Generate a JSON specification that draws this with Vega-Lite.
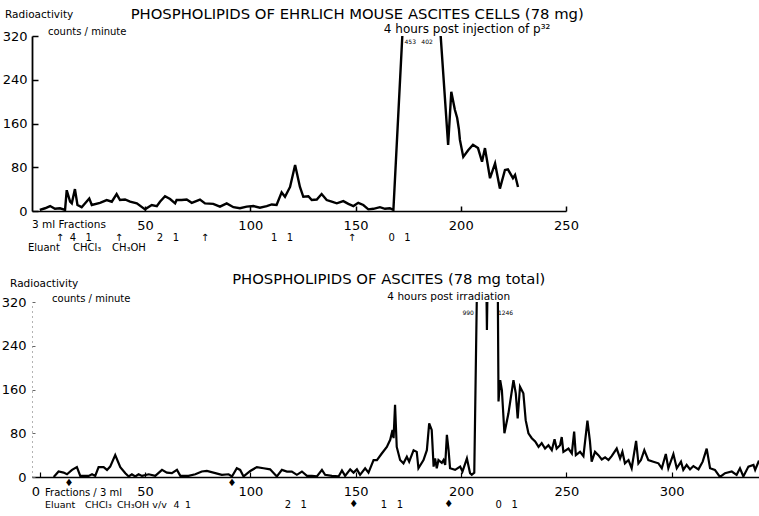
{
  "$schema": "https://vega.github.io/schema/vega-lite/v6.json",
  "padding": {"left": 1, "top": 7, "right": 0, "bottom": 0},
  "spacing": 18,
  "config": {"view": {"stroke": null}, "font": "DejaVu Sans", "text": {"font": "DejaVu Sans", "color": "black", "baseline": "alphabetic"}},
  "datasets": {
    "one": [{}],
    "top": [
      {"fraction": 0, "cpm": 2}, {"fraction": 2.5, "cpm": 5}, {"fraction": 4.9, "cpm": 9}, {"fraction": 7.2, "cpm": 4}, {"fraction": 9.6, "cpm": 5}, {"fraction": 12, "cpm": 2}, {"fraction": 12.8, "cpm": 38}, {"fraction": 14.4, "cpm": 17}, {"fraction": 15.2, "cpm": 14}, {"fraction": 16.7, "cpm": 40}, {"fraction": 17.9, "cpm": 11}, {"fraction": 19.9, "cpm": 7}, {"fraction": 23.5, "cpm": 23}, {"fraction": 24.7, "cpm": 11}, {"fraction": 28.6, "cpm": 15}, {"fraction": 31.8, "cpm": 20}, {"fraction": 34.2, "cpm": 17}, {"fraction": 36.5, "cpm": 31}, {"fraction": 38.1, "cpm": 20}, {"fraction": 40.5, "cpm": 21}, {"fraction": 42.9, "cpm": 17}, {"fraction": 46.1, "cpm": 14}, {"fraction": 50, "cpm": 3}, {"fraction": 53.2, "cpm": 11}, {"fraction": 55.6, "cpm": 9}, {"fraction": 57.1, "cpm": 17}, {"fraction": 59.5, "cpm": 27}, {"fraction": 61.9, "cpm": 22}, {"fraction": 64.3, "cpm": 14}, {"fraction": 65, "cpm": 20}, {"fraction": 67.4, "cpm": 20}, {"fraction": 69.8, "cpm": 21}, {"fraction": 72.2, "cpm": 15}, {"fraction": 76.1, "cpm": 21}, {"fraction": 78.5, "cpm": 14}, {"fraction": 82.4, "cpm": 13}, {"fraction": 85.6, "cpm": 8}, {"fraction": 88.8, "cpm": 14}, {"fraction": 92, "cpm": 7}, {"fraction": 95.1, "cpm": 5}, {"fraction": 98.3, "cpm": 8}, {"fraction": 101.5, "cpm": 9}, {"fraction": 104.6, "cpm": 6}, {"fraction": 107.8, "cpm": 9}, {"fraction": 110.2, "cpm": 12}, {"fraction": 112.5, "cpm": 11}, {"fraction": 114.9, "cpm": 34}, {"fraction": 116.5, "cpm": 26}, {"fraction": 118.9, "cpm": 44}, {"fraction": 121.3, "cpm": 84}, {"fraction": 123.6, "cpm": 44}, {"fraction": 125.2, "cpm": 26}, {"fraction": 127.6, "cpm": 27}, {"fraction": 129.2, "cpm": 20}, {"fraction": 131.6, "cpm": 21}, {"fraction": 133.9, "cpm": 31}, {"fraction": 136.3, "cpm": 20}, {"fraction": 138.7, "cpm": 17}, {"fraction": 141.1, "cpm": 14}, {"fraction": 144.2, "cpm": 18}, {"fraction": 146.6, "cpm": 13}, {"fraction": 149, "cpm": 9}, {"fraction": 151.3, "cpm": 15}, {"fraction": 153.7, "cpm": 11}, {"fraction": 156.1, "cpm": 3}, {"fraction": 158.5, "cpm": 4}, {"fraction": 161.6, "cpm": 7}, {"fraction": 164, "cpm": 4}, {"fraction": 166.3, "cpm": 5}, {"fraction": 168, "cpm": 2}, {"fraction": 174, "cpm": 453}, {"fraction": 189, "cpm": 402}, {"fraction": 194, "cpm": 121}, {"fraction": 195.5, "cpm": 218}, {"fraction": 197.2, "cpm": 185}, {"fraction": 198.3, "cpm": 170}, {"fraction": 199.1, "cpm": 150}, {"fraction": 199.6, "cpm": 130}, {"fraction": 201.2, "cpm": 99}, {"fraction": 203.5, "cpm": 111}, {"fraction": 205.8, "cpm": 121}, {"fraction": 208.2, "cpm": 115}, {"fraction": 210.1, "cpm": 90}, {"fraction": 211.5, "cpm": 115}, {"fraction": 213.9, "cpm": 60}, {"fraction": 216.3, "cpm": 87}, {"fraction": 218.6, "cpm": 41}, {"fraction": 221, "cpm": 75}, {"fraction": 222.4, "cpm": 76}, {"fraction": 224.8, "cpm": 60}, {"fraction": 225.8, "cpm": 66}, {"fraction": 227.2, "cpm": 44}
    ],
    "bottom": [
      {"fraction": 6.7, "cpm": 0}, {"fraction": 9.0, "cpm": 10}, {"fraction": 11.4, "cpm": 8}, {"fraction": 13.0, "cpm": 5}, {"fraction": 15.4, "cpm": 13}, {"fraction": 17.7, "cpm": 18}, {"fraction": 19.3, "cpm": 2}, {"fraction": 23.3, "cpm": 2}, {"fraction": 24.9, "cpm": 5}, {"fraction": 26.4, "cpm": 2}, {"fraction": 28.0, "cpm": 18}, {"fraction": 30.4, "cpm": 18}, {"fraction": 32.0, "cpm": 13}, {"fraction": 33.5, "cpm": 19}, {"fraction": 35.9, "cpm": 40}, {"fraction": 38.3, "cpm": 18}, {"fraction": 40.7, "cpm": 7}, {"fraction": 42.3, "cpm": 1}, {"fraction": 43.8, "cpm": 5}, {"fraction": 45.4, "cpm": 1}, {"fraction": 47.0, "cpm": 5}, {"fraction": 48.6, "cpm": 2}, {"fraction": 51.8, "cpm": 5}, {"fraction": 54.9, "cpm": 2}, {"fraction": 58.1, "cpm": 13}, {"fraction": 60.4, "cpm": 8}, {"fraction": 62.8, "cpm": 7}, {"fraction": 65.2, "cpm": 13}, {"fraction": 66.8, "cpm": 2}, {"fraction": 70.7, "cpm": 2}, {"fraction": 73.9, "cpm": 5}, {"fraction": 77.0, "cpm": 10}, {"fraction": 79.4, "cpm": 11}, {"fraction": 83.4, "cpm": 7}, {"fraction": 86.5, "cpm": 4}, {"fraction": 89.7, "cpm": 5}, {"fraction": 91.3, "cpm": 1}, {"fraction": 93.6, "cpm": 16}, {"fraction": 95.2, "cpm": 13}, {"fraction": 96.8, "cpm": 1}, {"fraction": 100.0, "cpm": 11}, {"fraction": 103.1, "cpm": 18}, {"fraction": 106.3, "cpm": 16}, {"fraction": 109.4, "cpm": 14}, {"fraction": 112.6, "cpm": 1}, {"fraction": 115.0, "cpm": 13}, {"fraction": 117.4, "cpm": 10}, {"fraction": 119.7, "cpm": 10}, {"fraction": 122.1, "cpm": 4}, {"fraction": 124.5, "cpm": 10}, {"fraction": 126.9, "cpm": 2}, {"fraction": 129.2, "cpm": 2}, {"fraction": 131.6, "cpm": 1}, {"fraction": 134.0, "cpm": 13}, {"fraction": 135.5, "cpm": 4}, {"fraction": 138.7, "cpm": 2}, {"fraction": 141.9, "cpm": 1}, {"fraction": 143.5, "cpm": 12}, {"fraction": 145.0, "cpm": 2}, {"fraction": 147.4, "cpm": 14}, {"fraction": 149.0, "cpm": 8}, {"fraction": 150.6, "cpm": 14}, {"fraction": 152.1, "cpm": 4}, {"fraction": 154.5, "cpm": 16}, {"fraction": 156.1, "cpm": 8}, {"fraction": 158.5, "cpm": 31}, {"fraction": 160.1, "cpm": 31}, {"fraction": 162.4, "cpm": 43}, {"fraction": 164.8, "cpm": 55}, {"fraction": 166.4, "cpm": 68}, {"fraction": 167.5, "cpm": 86}, {"fraction": 168.0, "cpm": 71}, {"fraction": 168.7, "cpm": 132}, {"fraction": 169.5, "cpm": 55}, {"fraction": 171.1, "cpm": 31}, {"fraction": 172.7, "cpm": 25}, {"fraction": 174.3, "cpm": 37}, {"fraction": 175.4, "cpm": 28}, {"fraction": 177.5, "cpm": 49}, {"fraction": 179.0, "cpm": 46}, {"fraction": 179.8, "cpm": 16}, {"fraction": 182.2, "cpm": 31}, {"fraction": 183.8, "cpm": 49}, {"fraction": 184.9, "cpm": 98}, {"fraction": 186.1, "cpm": 86}, {"fraction": 187.0, "cpm": 19}, {"fraction": 187.7, "cpm": 34}, {"fraction": 188.5, "cpm": 16}, {"fraction": 189.3, "cpm": 31}, {"fraction": 190.9, "cpm": 26}, {"fraction": 191.7, "cpm": 31}, {"fraction": 192.5, "cpm": 22}, {"fraction": 193.3, "cpm": 77}, {"fraction": 194.1, "cpm": 49}, {"fraction": 194.8, "cpm": 16}, {"fraction": 197.2, "cpm": 13}, {"fraction": 199.6, "cpm": 19}, {"fraction": 200.7, "cpm": 10}, {"fraction": 202.8, "cpm": 34}, {"fraction": 204.3, "cpm": 7}, {"fraction": 205.1, "cpm": 4}, {"fraction": 206.3, "cpm": 8}, {"fraction": 210, "cpm": 990}, {"fraction": 212.3, "cpm": 269}, {"fraction": 216, "cpm": 1246}, {"fraction": 217.8, "cpm": 138}, {"fraction": 218.6, "cpm": 177}, {"fraction": 219.4, "cpm": 159}, {"fraction": 220.6, "cpm": 80}, {"fraction": 222.5, "cpm": 116}, {"fraction": 224.9, "cpm": 177}, {"fraction": 226.0, "cpm": 153}, {"fraction": 226.9, "cpm": 107}, {"fraction": 228.0, "cpm": 165}, {"fraction": 229.6, "cpm": 153}, {"fraction": 230.7, "cpm": 104}, {"fraction": 232.0, "cpm": 80}, {"fraction": 233.6, "cpm": 71}, {"fraction": 235.2, "cpm": 65}, {"fraction": 236.8, "cpm": 55}, {"fraction": 238.3, "cpm": 62}, {"fraction": 239.9, "cpm": 52}, {"fraction": 241.5, "cpm": 58}, {"fraction": 243.1, "cpm": 49}, {"fraction": 244.4, "cpm": 69}, {"fraction": 245.4, "cpm": 52}, {"fraction": 247.0, "cpm": 58}, {"fraction": 247.8, "cpm": 73}, {"fraction": 248.6, "cpm": 46}, {"fraction": 251.0, "cpm": 52}, {"fraction": 252.6, "cpm": 43}, {"fraction": 253.7, "cpm": 83}, {"fraction": 254.5, "cpm": 40}, {"fraction": 256.5, "cpm": 46}, {"fraction": 258.1, "cpm": 38}, {"fraction": 260.0, "cpm": 103}, {"fraction": 261.2, "cpm": 65}, {"fraction": 262.0, "cpm": 28}, {"fraction": 263.6, "cpm": 46}, {"fraction": 265.2, "cpm": 40}, {"fraction": 266.8, "cpm": 32}, {"fraction": 268.4, "cpm": 36}, {"fraction": 270.0, "cpm": 31}, {"fraction": 271.5, "cpm": 38}, {"fraction": 273.9, "cpm": 52}, {"fraction": 275.5, "cpm": 34}, {"fraction": 276.6, "cpm": 46}, {"fraction": 277.8, "cpm": 25}, {"fraction": 279.5, "cpm": 31}, {"fraction": 281.0, "cpm": 16}, {"fraction": 283.1, "cpm": 66}, {"fraction": 284.2, "cpm": 25}, {"fraction": 285.4, "cpm": 31}, {"fraction": 287.0, "cpm": 49}, {"fraction": 288.9, "cpm": 31}, {"fraction": 291.3, "cpm": 28}, {"fraction": 293.7, "cpm": 25}, {"fraction": 295.3, "cpm": 16}, {"fraction": 297.2, "cpm": 42}, {"fraction": 298.4, "cpm": 16}, {"fraction": 300.8, "cpm": 42}, {"fraction": 302.4, "cpm": 16}, {"fraction": 304.4, "cpm": 28}, {"fraction": 305.5, "cpm": 13}, {"fraction": 307.1, "cpm": 22}, {"fraction": 308.7, "cpm": 14}, {"fraction": 310.3, "cpm": 20}, {"fraction": 312.7, "cpm": 14}, {"fraction": 314.7, "cpm": 28}, {"fraction": 316.6, "cpm": 52}, {"fraction": 318.2, "cpm": 16}, {"fraction": 320.5, "cpm": 13}, {"fraction": 322.9, "cpm": 0}, {"fraction": 325.3, "cpm": 7}, {"fraction": 328.5, "cpm": 10}, {"fraction": 330.8, "cpm": 4}, {"fraction": 332.4, "cpm": 16}, {"fraction": 334.0, "cpm": 1}, {"fraction": 336.4, "cpm": 19}, {"fraction": 338.8, "cpm": 22}, {"fraction": 339.6, "cpm": 13}, {"fraction": 341.2, "cpm": 28}, {"fraction": 343.5, "cpm": 22}
    ],
    "topRatios": [
      {"fraction": 9.6, "label": "↑"}, {"fraction": 19.5, "label": "4\u00a0\u00a0\u00a01"}, {"fraction": 37.6, "label": "↑"}, {"fraction": 60.9, "label": "2\u00a0\u00a0\u00a01"}, {"fraction": 78.5, "label": "↑"}, {"fraction": 115.1, "label": "1\u00a0\u00a0\u00a01"}, {"fraction": 148.3, "label": "↑"}, {"fraction": 170.9, "label": "0\u00a0\u00a0\u00a01"}
    ],
    "topSolvents": [
      {"fraction": -5.6, "label": "Eluant"}, {"fraction": 15.8, "label": "CHCl₃"}, {"fraction": 34.3, "label": "CH₃OH"}
    ],
    "bottomSolvents": [
      {"fraction": 2.6, "label": "Eluant"}, {"fraction": 21.5, "label": "CHCl₃"}, {"fraction": 36.7, "label": "CH₃OH"}, {"fraction": 53.5, "label": "v/v"}, {"fraction": 63.5, "label": "4"}, {"fraction": 69, "label": "1"}
    ],
    "bottomRatios": [
      {"fraction": 121.6, "label": "2\u00a0\u00a0\u00a01"}, {"fraction": 167.2, "label": "1\u00a0\u00a0\u00a01"}, {"fraction": 221.7, "label": "0\u00a0\u00a0\u00a01"}
    ],
    "bottomMarks1": [{"fraction": 13.9, "label": "♦"}, {"fraction": 91.3, "label": "♦"}],
    "bottomMarks2": [{"fraction": 149.1, "label": "♦"}, {"fraction": 194.2, "label": "♦"}]
  },
  "vconcat": [
    {
      "width": 534,
      "height": 175,
      "layer": [
        {
          "data": {"name": "top"},
          "mark": {"type": "line", "color": "black", "strokeWidth": 2.4, "clip": true},
          "encoding": {
            "x": {"field": "fraction", "type": "quantitative", "scale": {"domain": [-3.7, 250], "nice": false, "zero": false},
              "axis": {"title": null, "grid": false, "values": [50, 100, 150, 200, 250], "tickSize": -5, "labelPadding": 13, "domainColor": "black", "domainWidth": 1.5, "tickColor": "black", "tickWidth": 1.5, "labelFont": "DejaVu Sans", "labelFontSize": 13, "labelColor": "black", "labelFlush": false}},
            "y": {"field": "cpm", "type": "quantitative", "scale": {"domain": [0, 320], "nice": false},
              "axis": {"title": null, "grid": false, "values": [0, 80, 160, 240, 320], "tickSize": -6, "labelPadding": 11, "domainColor": "black", "domainWidth": 1.8, "tickColor": "black", "tickWidth": 1.5, "labelFont": "DejaVu Sans", "labelFontSize": 13, "labelColor": "black", "labelFlush": false}}
          }
        },
        {"data": {"name": "one"}, "mark": {"type": "text", "fontSize": 14.8, "align": "center"}, "encoding": {"x": {"datum": 150.8, "type": "quantitative"}, "y": {"datum": 351, "type": "quantitative"}, "text": {"value": "PHOSPHOLIPIDS OF EHRLICH MOUSE ASCITES CELLS (78 mg)"}}},
        {"data": {"name": "one"}, "mark": {"type": "text", "fontSize": 12, "align": "center"}, "encoding": {"x": {"datum": 203, "type": "quantitative"}, "y": {"datum": 325, "type": "quantitative"}, "text": {"value": "4 hours post injection of p³²"}}},
        {"data": {"name": "one"}, "mark": {"type": "text", "fontSize": 10.5, "align": "left"}, "encoding": {"x": {"datum": -16.5, "type": "quantitative"}, "y": {"datum": 353, "type": "quantitative"}, "text": {"value": "Radioactivity"}}},
        {"data": {"name": "one"}, "mark": {"type": "text", "fontSize": 10, "align": "left"}, "encoding": {"x": {"datum": 3.9, "type": "quantitative"}, "y": {"datum": 322, "type": "quantitative"}, "text": {"value": "counts / minute"}}},
        {"data": {"name": "one"}, "mark": {"type": "text", "fontSize": 6, "align": "center"}, "encoding": {"x": {"datum": 176, "type": "quantitative"}, "y": {"datum": 305, "type": "quantitative"}, "text": {"value": "453"}}},
        {"data": {"name": "one"}, "mark": {"type": "text", "fontSize": 6, "align": "center"}, "encoding": {"x": {"datum": 184, "type": "quantitative"}, "y": {"datum": 305, "type": "quantitative"}, "text": {"value": "402"}}},
        {"data": {"name": "one"}, "mark": {"type": "text", "fontSize": 10.5, "align": "left"}, "encoding": {"x": {"datum": -3.7, "type": "quantitative"}, "y": {"datum": -31, "type": "quantitative"}, "text": {"value": "3 ml Fractions"}}},
        {"data": {"name": "topRatios"}, "mark": {"type": "text", "fontSize": 10, "align": "center"}, "encoding": {"x": {"field": "fraction", "type": "quantitative"}, "y": {"datum": -54, "type": "quantitative"}, "text": {"field": "label"}}},
        {"data": {"name": "topSolvents"}, "mark": {"type": "text", "fontSize": 10, "align": "left"}, "encoding": {"x": {"field": "fraction", "type": "quantitative"}, "y": {"datum": -73, "type": "quantitative"}, "text": {"field": "label"}}}
      ]
    },
    {
      "width": 732,
      "height": 175,
      "layer": [
        {
          "data": {"name": "bottom"},
          "mark": {"type": "line", "color": "black", "strokeWidth": 2.2, "clip": true},
          "encoding": {
            "x": {"field": "fraction", "type": "quantitative", "scale": {"domain": [-3.6, 343.8], "nice": false, "zero": false},
              "axis": {"title": null, "grid": false, "values": [0, 50, 100, 150, 200, 250, 300], "tickSize": -5, "labelPadding": 13, "domainColor": "black", "domainWidth": 1.5, "tickColor": "black", "tickWidth": 1.2, "labelFont": "DejaVu Sans", "labelFontSize": 13, "labelColor": "black", "labelFlush": false,
                "labelAlign": {"condition": {"test": "datum.value === 0", "value": "right"}, "value": "center"}}},
            "y": {"field": "cpm", "type": "quantitative", "scale": {"domain": [0, 320], "nice": false},
              "axis": {"title": null, "grid": false, "values": [0, 80, 160, 240, 320], "tickSize": -3, "labelPadding": 9, "domainColor": "#666", "domainWidth": 1, "domainDash": [1, 4], "tickColor": "#666", "tickWidth": 1, "labelFont": "DejaVu Sans", "labelFontSize": 13, "labelColor": "black", "labelFlush": false}}
          }
        },
        {"data": {"name": "one"}, "mark": {"type": "text", "fontSize": 14.8, "align": "center"}, "encoding": {"x": {"datum": 165.7, "type": "quantitative"}, "y": {"datum": 353, "type": "quantitative"}, "text": {"value": "PHOSPHOLIPIDS OF ASCITES (78 mg total)"}}},
        {"data": {"name": "one"}, "mark": {"type": "text", "fontSize": 10.5, "align": "center"}, "encoding": {"x": {"datum": 194.2, "type": "quantitative"}, "y": {"datum": 324, "type": "quantitative"}, "text": {"value": "4 hours post irradiation"}}},
        {"data": {"name": "one"}, "mark": {"type": "text", "fontSize": 10.5, "align": "left"}, "encoding": {"x": {"datum": -14, "type": "quantitative"}, "y": {"datum": 347, "type": "quantitative"}, "text": {"value": "Radioactivity"}}},
        {"data": {"name": "one"}, "mark": {"type": "text", "fontSize": 10, "align": "left"}, "encoding": {"x": {"datum": 5.9, "type": "quantitative"}, "y": {"datum": 320, "type": "quantitative"}, "text": {"value": "counts / minute"}}},
        {"data": {"name": "one"}, "mark": {"type": "text", "fontSize": 6, "align": "right"}, "encoding": {"x": {"datum": 206.1, "type": "quantitative"}, "y": {"datum": 296, "type": "quantitative"}, "text": {"value": "990"}}},
        {"data": {"name": "one"}, "mark": {"type": "text", "fontSize": 6, "align": "left"}, "encoding": {"x": {"datum": 217.5, "type": "quantitative"}, "y": {"datum": 296, "type": "quantitative"}, "text": {"value": "1246"}}},
        {"data": {"name": "one"}, "mark": {"type": "text", "fontSize": 10, "align": "left"}, "encoding": {"x": {"datum": 2.6, "type": "quantitative"}, "y": {"datum": -35, "type": "quantitative"}, "text": {"value": "Fractions / 3 ml"}}},
        {"data": {"name": "bottomSolvents"}, "mark": {"type": "text", "fontSize": 9.5, "align": "left"}, "encoding": {"x": {"field": "fraction", "type": "quantitative"}, "y": {"datum": -56, "type": "quantitative"}, "text": {"field": "label"}}},
        {"data": {"name": "bottomRatios"}, "mark": {"type": "text", "fontSize": 10, "align": "center"}, "encoding": {"x": {"field": "fraction", "type": "quantitative"}, "y": {"datum": -56, "type": "quantitative"}, "text": {"field": "label"}}},
        {"data": {"name": "bottomMarks1"}, "mark": {"type": "text", "fontSize": 10, "align": "center", "baseline": "middle"}, "encoding": {"x": {"field": "fraction", "type": "quantitative"}, "y": {"datum": -11, "type": "quantitative"}, "text": {"field": "label"}}},
        {"data": {"name": "bottomMarks2"}, "mark": {"type": "text", "fontSize": 10, "align": "center", "baseline": "middle"}, "encoding": {"x": {"field": "fraction", "type": "quantitative"}, "y": {"datum": -50, "type": "quantitative"}, "text": {"field": "label"}}}
      ]
    }
  ]
}
